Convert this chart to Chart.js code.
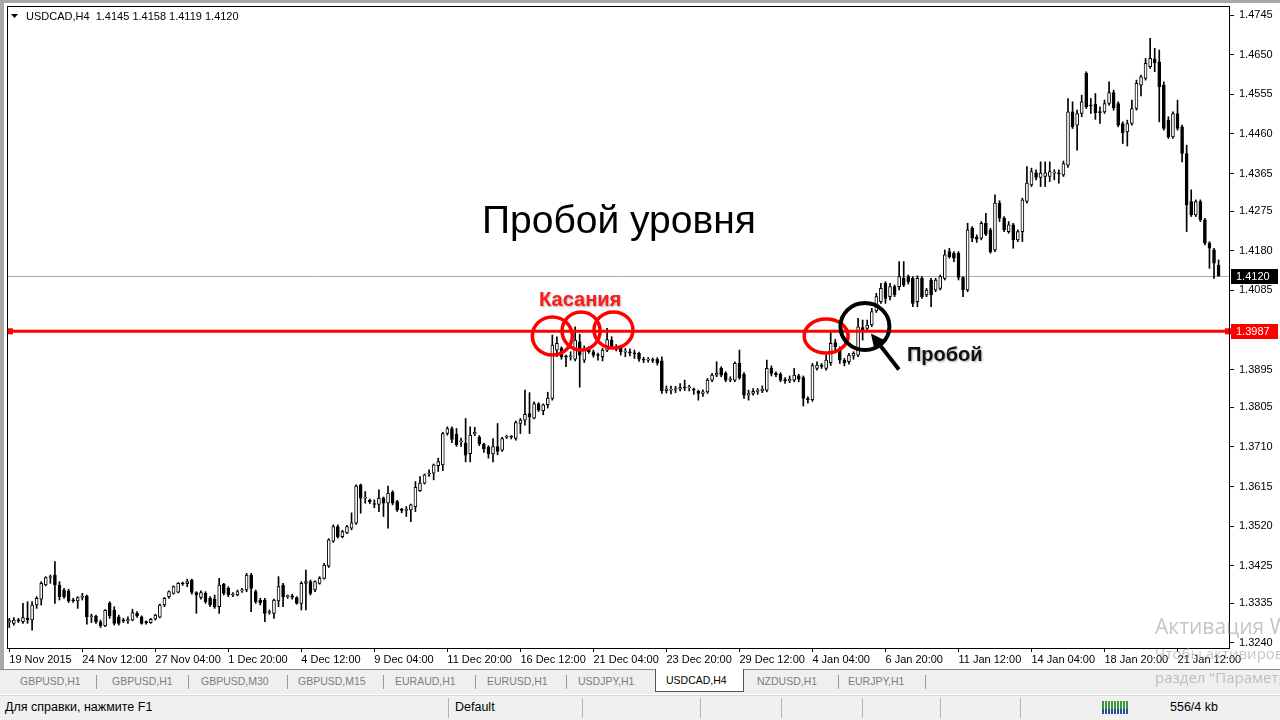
<!DOCTYPE html>
<html lang="ru">
<head>
<meta charset="utf-8">
<title>USDCAD,H4 — Пробой уровня</title>
<script src="https://cdn.jsdelivr.net/npm/chart.js@4.4.1/dist/chart.umd.min.js"></script>
<style>
  html, body { margin: 0; padding: 0; }
  body {
    width: 1280px; height: 720px; overflow: hidden; position: relative;
    background: #fff; font-family: "Liberation Sans", Arial, sans-serif;
  }
  #chart { position: absolute; left: 0; top: 0; }
  #frame-left { position: absolute; left: 0; top: 0; width: 4px; height: 669px; background: #a8a8a8; }
  #frame-top  { position: absolute; left: 0; top: 0; width: 1280px; height: 3px; background: #a8a8a8; }

  #tabbar {
    position: absolute; left: 0; top: 669px; width: 1280px; height: 25px;
    background: #efefef; border-top: 1px solid #8a8a8a; box-sizing: border-box;
  }
  #tabbar .tab { position: absolute; top: 5px; font-size: 10.5px; color: #7c7c7c; white-space: nowrap; }
  #tabbar .sep { position: absolute; top: 5px; width: 1px; height: 14px; background: #9a9a9a; }
  #tabbar .active {
    position: absolute; left: 655px; top: -1px; width: 89px; height: 23px; box-sizing: border-box;
    background: #fff; border: 1px solid #555; border-top: none;
    font-size: 10.5px; color: #000; padding: 5px 0 0 10px;
  }

  #statusbar {
    position: absolute; left: 0; top: 695px; width: 1280px; height: 25px;
    background: #f0f0f0; border-top: 1px solid #d8d8d8; box-sizing: border-box;
  }
  #statusbar .txt { position: absolute; top: 4px; font-size: 12.5px; color: #000; white-space: nowrap; }
  #statusbar .vsep { position: absolute; top: 2px; width: 1px; height: 20px; background: #b4b4b4; }
  #meter {
    position: absolute; left: 1102px; top: 5px; width: 26px; height: 13px;
    background: repeating-linear-gradient(90deg, #3a9a3a 0 2px, #f0f0f0 2px 3px);
  }
  #meter::after {
    content: ""; position: absolute; left: 0; bottom: 0; width: 26px; height: 5px;
    background: repeating-linear-gradient(90deg, #2a4fa0 0 2px, #f0f0f0 2px 3px);
  }

  .wm { position: absolute; color: rgba(150, 150, 150, 0.55); white-space: nowrap; font-family: "Open Sans", "Liberation Sans", sans-serif; }
</style>
</head>
<body>
<canvas id="chart" width="1280" height="668"></canvas>
<div id="frame-left"></div>
<div id="frame-top"></div>

<div id="tabbar">
  <span class="tab" style="left:20px">GBPUSD,H1</span>
  <span class="sep" style="left:96px"></span>
  <span class="tab" style="left:112px">GBPUSD,H1</span>
  <span class="sep" style="left:188px"></span>
  <span class="tab" style="left:201px">GBPUSD,M30</span>
  <span class="sep" style="left:287px"></span>
  <span class="tab" style="left:298px">GBPUSD,M15</span>
  <span class="sep" style="left:383px"></span>
  <span class="tab" style="left:395px">EURAUD,H1</span>
  <span class="sep" style="left:475px"></span>
  <span class="tab" style="left:487px">EURUSD,H1</span>
  <span class="sep" style="left:566px"></span>
  <span class="tab" style="left:578px">USDJPY,H1</span>
  <div class="active">USDCAD,H4</div>
  <span class="tab" style="left:757px">NZDUSD,H1</span>
  <span class="sep" style="left:838px"></span>
  <span class="tab" style="left:848px">EURJPY,H1</span>
  <span class="sep" style="left:925px"></span>
</div>

<div id="statusbar">
  <span class="txt" style="left:5px">Для справки, нажмите F1</span>
  <span class="vsep" style="left:448px"></span>
  <span class="txt" style="left:455px">Default</span>
  <span class="vsep" style="left:582px"></span>
  <span class="vsep" style="left:700px"></span>
  <span class="vsep" style="left:781px"></span>
  <span class="vsep" style="left:862px"></span>
  <span class="vsep" style="left:940px"></span>
  <span class="vsep" style="left:1020px"></span>
  <div id="meter"></div>
  <span class="txt" style="left:1170px">556/4 kb</span>
</div>

<div class="wm" style="left:1155px; top:612px; font-size:21px">Активация Windows</div>
<div class="wm" style="left:1155px; top:643px; font-size:15px">Чтобы активировать Windows, перейдите в</div>
<div class="wm" style="left:1155px; top:667px; font-size:15px">раздел "Параметры".</div>

<script>
// =====================================================================
// USDCAD,H4 — level breakout (MetaTrader style candles on Chart.js)
// =====================================================================

// ── Data: H4 candles, 19 Nov 2015 20:00 → 22 Jan 2016 ────────────────
const opens = [
  1.3290,1.3287,1.3295,1.3291,1.3300,1.3295,1.3331,1.3345,1.3379,1.3397,
  1.3403,1.3379,1.3367,1.3365,1.3343,1.3341,1.3349,1.3353,1.3303,1.3304,
  1.3291,1.3281,1.3335,1.3319,1.3303,1.3295,1.3293,1.3295,1.3311,1.3303,
  1.3290,1.3289,1.3297,1.3302,1.3331,1.3351,1.3359,1.3362,1.3383,1.3382,
  1.3391,1.3361,1.3349,1.3359,1.3347,1.3345,1.3327,1.3381,1.3371,1.3355,
  1.3355,1.3365,1.3367,1.3403,1.3363,1.3343,1.3343,1.3313,1.3311,1.3341,
  1.3379,1.3351,1.3353,1.3349,1.3335,1.3383,1.3387,1.3367,1.3383,1.3395,
  1.3425,1.3484,1.3519,1.3495,1.3504,1.3515,1.3527,1.3619,1.3587,1.3582,
  1.3574,1.3572,1.3587,1.3575,1.3601,1.3579,1.3560,1.3558,1.3559,1.3567,
  1.3605,1.3623,1.3645,1.3647,1.3665,1.3667,1.3742,1.3754,1.3740,1.3722,
  1.3719,1.3694,1.3741,1.3733,1.3717,1.3709,1.3693,1.3711,1.3702,1.3733,
  1.3734,1.3730,1.3766,1.3774,1.3790,1.3779,1.3813,1.3797,1.3811,1.3826,
  1.3942,1.3946,1.3928,1.3926,1.3920,1.3962,1.3918,1.3946,1.3938,1.3930,
  1.3926,1.3942,1.3966,1.3950,1.3946,1.3937,1.3938,1.3935,1.3934,1.3920,
  1.3918,1.3919,1.3920,1.3916,1.3845,1.3846,1.3847,1.3849,1.3852,1.3851,
  1.3848,1.3843,1.3838,1.3842,1.3870,1.3882,1.3898,1.3886,1.3870,1.3870,
  1.3910,1.3884,1.3834,1.3838,1.3843,1.3845,1.3846,1.3898,1.3886,1.3884,
  1.3871,1.3868,1.3870,1.3880,1.3876,1.3826,1.3823,1.3898,1.3905,1.3898,
  1.3912,1.3960,1.3946,1.3918,1.3914,1.3928,1.3930,1.3996,1.3994,1.4002,
  1.4036,1.4058,1.4102,1.4070,1.4094,1.4094,1.4114,1.4118,1.4114,1.4058,
  1.4114,1.4074,1.4110,1.4086,1.4090,1.4114,1.4178,1.4174,1.4174,1.4116,
  1.4086,1.4234,1.4212,1.4210,1.4246,1.4230,1.4182,1.4294,1.4258,1.4226,
  1.4242,1.4206,1.4226,1.4298,1.4338,1.4367,1.4356,1.4358,1.4358,1.4366,
  1.4367,1.4362,1.4385,1.4513,1.4481,1.4509,1.4605,1.4529,1.4531,1.4513,
  1.4513,1.4533,1.4559,1.4533,1.4485,1.4465,1.4485,1.4521,1.4577,1.4593,
  1.4621,1.4640,1.4633,1.4577,1.4493,1.4453,1.4509,1.4477,1.4413,1.4298,
  1.4266,1.4298,1.4254,1.4198,1.4182,1.4145
];
const highs = [
  1.3299,1.3301,1.3299,1.3335,1.3339,1.3339,1.3351,1.3387,1.3399,1.3403,
  1.3435,1.3387,1.3371,1.3369,1.3347,1.3351,1.3359,1.3355,1.3309,1.3307,
  1.3295,1.3320,1.3339,1.3327,1.3307,1.3299,1.3303,1.3321,1.3315,1.3305,
  1.3293,1.3299,1.3309,1.3333,1.3349,1.3365,1.3377,1.3385,1.3386,1.3393,
  1.3393,1.3363,1.3365,1.3363,1.3351,1.3355,1.3395,1.3383,1.3375,1.3361,
  1.3367,1.3371,1.3407,1.3407,1.3367,1.3347,1.3347,1.3319,1.3345,1.3399,
  1.3383,1.3355,1.3357,1.3351,1.3387,1.3415,1.3391,1.3389,1.3399,1.3431,
  1.3490,1.3523,1.3523,1.3510,1.3522,1.3552,1.3619,1.3621,1.3603,1.3585,
  1.3583,1.3607,1.3590,1.3616,1.3605,1.3582,1.3563,1.3567,1.3573,1.3627,
  1.3639,1.3645,1.3655,1.3669,1.3683,1.3745,1.3758,1.3758,1.3754,1.3731,
  1.3778,1.3758,1.3757,1.3737,1.3719,1.3713,1.3730,1.3766,1.3733,1.3738,
  1.3737,1.3772,1.3778,1.3846,1.3840,1.3818,1.3816,1.3813,1.3841,1.3978,
  1.3974,1.3950,1.3930,1.3938,1.3998,1.3980,1.3952,1.3950,1.3942,1.3935,
  1.3946,1.3994,1.3974,1.3955,1.3950,1.3946,1.3945,1.3942,1.3937,1.3925,
  1.3924,1.3923,1.3924,1.3926,1.3856,1.3856,1.3855,1.3862,1.3870,1.3858,
  1.3851,1.3846,1.3847,1.3874,1.3886,1.3914,1.3902,1.3890,1.3878,1.3914,
  1.3942,1.3888,1.3846,1.3850,1.3850,1.3856,1.3918,1.3904,1.3890,1.3888,
  1.3876,1.3880,1.3898,1.3884,1.3880,1.3830,1.3910,1.3914,1.3910,1.3930,
  1.3985,1.3968,1.3950,1.3922,1.3934,1.3938,1.4018,1.4014,1.4014,1.4042,
  1.4078,1.4102,1.4106,1.4102,1.4098,1.4154,1.4154,1.4122,1.4118,1.4120,
  1.4118,1.4090,1.4114,1.4114,1.4122,1.4182,1.4186,1.4178,1.4178,1.4118,
  1.4246,1.4238,1.4218,1.4250,1.4270,1.4234,1.4314,1.4300,1.4262,1.4250,
  1.4246,1.4230,1.4306,1.4382,1.4378,1.4374,1.4393,1.4393,1.4393,1.4374,
  1.4374,1.4395,1.4545,1.4537,1.4517,1.4553,1.4609,1.4545,1.4557,1.4525,
  1.4541,1.4585,1.4565,1.4537,1.4489,1.4493,1.4541,1.4589,1.4601,1.4641,
  1.4689,1.4665,1.4661,1.4585,1.4501,1.4513,1.4541,1.4481,1.4433,1.4326,
  1.4302,1.4302,1.4258,1.4202,1.4186,1.4158
];
const lows = [
  1.3277,1.3283,1.3289,1.3287,1.3287,1.3271,1.3323,1.3331,1.3377,1.3383,
  1.3335,1.3343,1.3347,1.3337,1.3337,1.3323,1.3343,1.3285,1.3289,1.3287,
  1.3277,1.3279,1.3299,1.3283,1.3283,1.3289,1.3287,1.3293,1.3301,1.3285,
  1.3285,1.3287,1.3295,1.3300,1.3327,1.3347,1.3357,1.3360,1.3378,1.3375,
  1.3357,1.3311,1.3345,1.3335,1.3327,1.3323,1.3311,1.3355,1.3351,1.3351,
  1.3353,1.3361,1.3363,1.3315,1.3335,1.3331,1.3291,1.3309,1.3299,1.3327,
  1.3327,1.3347,1.3345,1.3333,1.3319,1.3319,1.3355,1.3363,1.3381,1.3393,
  1.3421,1.3481,1.3491,1.3492,1.3502,1.3511,1.3524,1.3551,1.3575,1.3574,
  1.3564,1.3555,1.3543,1.3515,1.3571,1.3555,1.3552,1.3543,1.3531,1.3555,
  1.3603,1.3621,1.3639,1.3631,1.3651,1.3653,1.3738,1.3720,1.3711,1.3711,
  1.3674,1.3674,1.3737,1.3713,1.3697,1.3683,1.3674,1.3691,1.3699,1.3730,
  1.3729,1.3726,1.3742,1.3762,1.3742,1.3777,1.3795,1.3787,1.3803,1.3822,
  1.3926,1.3920,1.3902,1.3918,1.3916,1.3853,1.3912,1.3934,1.3925,1.3918,
  1.3916,1.3938,1.3946,1.3940,1.3930,1.3926,1.3928,1.3922,1.3915,1.3912,
  1.3913,1.3912,1.3906,1.3838,1.3839,1.3837,1.3840,1.3844,1.3845,1.3844,
  1.3836,1.3822,1.3831,1.3838,1.3866,1.3878,1.3878,1.3866,1.3866,1.3866,
  1.3872,1.3826,1.3822,1.3834,1.3836,1.3840,1.3842,1.3880,1.3878,1.3866,
  1.3862,1.3864,1.3866,1.3866,1.3808,1.3815,1.3819,1.3894,1.3898,1.3894,
  1.3905,1.3940,1.3910,1.3904,1.3908,1.3920,1.3926,1.3966,1.3986,1.3998,
  1.4032,1.4054,1.4054,1.4062,1.4070,1.4086,1.4094,1.4100,1.4046,1.4046,
  1.4066,1.4070,1.4046,1.4082,1.4086,1.4110,1.4162,1.4154,1.4110,1.4070,
  1.4082,1.4202,1.4200,1.4206,1.4216,1.4174,1.4178,1.4250,1.4226,1.4222,
  1.4186,1.4202,1.4202,1.4294,1.4334,1.4350,1.4334,1.4334,1.4346,1.4350,
  1.4342,1.4358,1.4380,1.4473,1.4421,1.4501,1.4521,1.4509,1.4495,1.4485,
  1.4509,1.4529,1.4517,1.4477,1.4437,1.4431,1.4481,1.4517,1.4551,1.4589,
  1.4617,1.4609,1.4489,1.4469,1.4449,1.4449,1.4469,1.4393,1.4226,1.4262,
  1.4262,1.4250,1.4194,1.4138,1.4114,1.4119
];
const closes = [
  1.3294,1.3295,1.3293,1.3301,1.3296,1.3331,1.3347,1.3383,1.3397,1.3398,
  1.3379,1.3351,1.3351,1.3341,1.3341,1.3349,1.3352,1.3303,1.3304,1.3291,
  1.3281,1.3318,1.3305,1.3287,1.3287,1.3293,1.3296,1.3313,1.3305,1.3287,
  1.3289,1.3297,1.3307,1.3331,1.3347,1.3363,1.3375,1.3383,1.3382,1.3387,
  1.3361,1.3355,1.3361,1.3339,1.3331,1.3327,1.3379,1.3359,1.3355,1.3357,
  1.3363,1.3367,1.3403,1.3371,1.3339,1.3336,1.3311,1.3315,1.3343,1.3375,
  1.3351,1.3352,1.3350,1.3335,1.3383,1.3387,1.3359,1.3387,1.3395,1.3427,
  1.3487,1.3519,1.3495,1.3507,1.3519,1.3528,1.3616,1.3587,1.3588,1.3578,
  1.3572,1.3587,1.3575,1.3599,1.3575,1.3559,1.3558,1.3560,1.3571,1.3613,
  1.3623,1.3643,1.3647,1.3667,1.3675,1.3742,1.3754,1.3728,1.3715,1.3724,
  1.3690,1.3738,1.3745,1.3717,1.3705,1.3693,1.3711,1.3699,1.3730,1.3735,
  1.3733,1.3768,1.3774,1.3788,1.3782,1.3814,1.3798,1.3811,1.3827,1.3954,
  1.3958,1.3926,1.3925,1.3928,1.3966,1.3930,1.3946,1.3938,1.3930,1.3929,
  1.3942,1.3967,1.3951,1.3944,1.3938,1.3939,1.3935,1.3933,1.3920,1.3918,
  1.3919,1.3917,1.3911,1.3845,1.3848,1.3847,1.3849,1.3852,1.3851,1.3854,
  1.3846,1.3838,1.3842,1.3870,1.3882,1.3887,1.3882,1.3870,1.3873,1.3910,
  1.3876,1.3834,1.3838,1.3843,1.3845,1.3848,1.3898,1.3886,1.3883,1.3870,
  1.3868,1.3872,1.3882,1.3872,1.3826,1.3823,1.3905,1.3906,1.3903,1.3918,
  1.3958,1.3950,1.3918,1.3912,1.3930,1.3934,1.3998,1.3986,1.4002,1.4034,
  1.4070,1.4090,1.4066,1.4094,1.4074,1.4118,1.4098,1.4106,1.4054,1.4114,
  1.4070,1.4086,1.4074,1.4110,1.4118,1.4170,1.4166,1.4162,1.4116,1.4086,
  1.4230,1.4210,1.4208,1.4246,1.4220,1.4178,1.4294,1.4258,1.4230,1.4242,
  1.4206,1.4226,1.4302,1.4342,1.4370,1.4356,1.4366,1.4367,1.4370,1.4367,
  1.4364,1.4389,1.4513,1.4477,1.4509,1.4537,1.4525,1.4527,1.4511,1.4511,
  1.4533,1.4559,1.4523,1.4481,1.4463,1.4485,1.4521,1.4581,1.4597,1.4629,
  1.4641,1.4630,1.4573,1.4473,1.4453,1.4509,1.4473,1.4413,1.4290,1.4266,
  1.4298,1.4254,1.4198,1.4186,1.4150,1.4120
];

// ── Axes ──────────────────────────────────────────────────────────────
const dateLabels = [
  '19 Nov 2015', '24 Nov 12:00', '27 Nov 04:00', '1 Dec 20:00', '4 Dec 12:00',
  '9 Dec 04:00', '11 Dec 20:00', '16 Dec 12:00', '21 Dec 04:00', '23 Dec 20:00',
  '29 Dec 12:00', '4 Jan 04:00', '6 Jan 20:00', '11 Jan 12:00', '14 Jan 04:00',
  '18 Jan 20:00', '21 Jan 12:00'
];
const dateTickBars = [0, 16, 32, 48, 64, 80, 96, 112, 128, 144, 160, 176, 192, 208, 224, 240, 256];
const priceTicks = [
  1.4745, 1.4650, 1.4555, 1.4460, 1.4365, 1.4275, 1.4180, 1.4085,
  1.3990, 1.3895, 1.3805, 1.3710, 1.3615, 1.3520, 1.3425, 1.3335, 1.3240
];
const PRICE_MIN = 1.3228;
const PRICE_MAX = 1.47642;
const EMPTY_BARS_RIGHT = 2;   // chart shift gap after the last candle

// ── Annotations (bar index, price) ────────────────────────────────────
const LEVEL_PRICE = 1.3987;
const touchMarks  = [[119.0, 1.39757], [125.3, 1.39877], [132.4, 1.39901], [179.0, 1.39757]];
const breakMark   = [187.5, 1.39985];

const symbol = 'USDCAD,H4';
const last   = closes.length - 1;

// ── Datasets ──────────────────────────────────────────────────────────
const bodyData   = opens.map((o, i) => ({ x: i, y: [o, closes[i]] }));
const wickData   = lows.map((l, i) => ({ x: i, y: [l, highs[i]] }));
const bodyColors = opens.map((o, i) => closes[i] >= o ? '#ffffff' : '#000000');

const FONT = '"Liberation Sans", Arial, sans-serif';
Chart.defaults.font.family = FONT;
Chart.defaults.font.size = 11;
Chart.defaults.color = '#000';

// ── Overlay: level line, circles, captions, price tags, frame ────────
function ellipse(ctx, cx, cy, rx, ry, color, width) {
  ctx.beginPath();
  ctx.ellipse(cx, cy, rx, ry, 0, 0, Math.PI * 2);
  ctx.strokeStyle = color;
  ctx.lineWidth = width;
  ctx.stroke();
}

function priceTag(ctx, yPix, text, bg) {
  ctx.fillStyle = bg;
  ctx.fillRect(1231, Math.round(yPix) - 7, 47, 15);
  ctx.fillStyle = '#fff';
  ctx.font = '11px ' + FONT;
  ctx.textAlign = 'left';
  ctx.textBaseline = 'middle';
  ctx.fillText(text, 1236, Math.round(yPix) + 1);
}

function shadowText(ctx, text, x, y, font, color) {
  ctx.save();
  ctx.font = font;
  ctx.textAlign = 'left';
  ctx.textBaseline = 'alphabetic';
  ctx.shadowColor = 'rgba(0,0,0,0.35)';
  ctx.shadowOffsetX = 1;
  ctx.shadowOffsetY = 1;
  ctx.shadowBlur = 2;
  ctx.fillStyle = color;
  ctx.fillText(text, x, y);
  ctx.restore();
}

// scales report label overflow as padding; MT4 keeps the frame fixed
function noScalePadding(s) {
  s.paddingTop = 0;
  s.paddingBottom = 0;
  s.paddingLeft = 0;
  s.paddingRight = 0;
}

const mtOverlay = {
  id: 'mtOverlay',
  beforeDatasetsDraw(chart) {
    const { ctx, chartArea: a, scales: { y } } = chart;
    const yb = Math.round(y.getPixelForValue(closes[last])) + 0.5;
    ctx.save();
    ctx.strokeStyle = '#a3acb6';
    ctx.lineWidth = 1;
    ctx.beginPath();
    ctx.moveTo(a.left, yb);
    ctx.lineTo(a.right, yb);
    ctx.stroke();
    ctx.restore();
  },
  afterDatasetsDraw(chart) {
    const { ctx, chartArea: a, scales: { x, y } } = chart;
    ctx.save();

    // support level
    const yl = y.getPixelForValue(LEVEL_PRICE);
    ctx.strokeStyle = '#ff0000';
    ctx.lineWidth = 3;
    ctx.beginPath();
    ctx.moveTo(a.left, yl);
    ctx.lineTo(a.right, yl);
    ctx.stroke();
    ctx.fillStyle = '#ff0000';
    ctx.fillRect(a.left, yl - 3, 6, 6);
    ctx.fillRect(a.right - 5, yl - 3, 6, 6);

    // touches
    const radii = [[20, 19], [19, 19], [19.5, 18], [22, 17]];
    touchMarks.forEach(([bar, price], i) => {
      ellipse(ctx, x.getPixelForValue(bar), y.getPixelForValue(price), radii[i][0], radii[i][1], '#ff0000', 3.5);
    });

    // breakout
    const bx = x.getPixelForValue(breakMark[0]);
    const by = y.getPixelForValue(breakMark[1]);
    ellipse(ctx, bx, by, 24.5, 23.5, '#000', 4);

    // arrow towards the breakout candle
    const tipX = bx + 6, tipY = by + 7;
    const tailX = bx + 34, tailY = by + 43;
    const ang = Math.atan2(tipY - tailY, tipX - tailX);
    ctx.strokeStyle = '#000';
    ctx.lineWidth = 4;
    ctx.beginPath();
    ctx.moveTo(tailX, tailY);
    ctx.lineTo(tipX - Math.cos(ang) * 10, tipY - Math.sin(ang) * 10);
    ctx.stroke();
    ctx.fillStyle = '#000';
    ctx.beginPath();
    ctx.moveTo(tipX, tipY);
    ctx.lineTo(tipX - Math.cos(ang - 0.45) * 16, tipY - Math.sin(ang - 0.45) * 16);
    ctx.lineTo(tipX - Math.cos(ang + 0.45) * 16, tipY - Math.sin(ang + 0.45) * 16);
    ctx.closePath();
    ctx.fill();
    ctx.restore();

    // captions
    const c2x = x.getPixelForValue(touchMarks[1][0]);
    shadowText(ctx, 'Касания', c2x - 42, yl - 25, 'bold 20px ' + FONT, '#ff1a1a');
    shadowText(ctx, 'Пробой', bx + 42, by + 35, 'bold 20px ' + FONT, '#111');

    ctx.save();
    ctx.font = '39px ' + FONT;
    ctx.fillStyle = '#000';
    ctx.textBaseline = 'alphabetic';
    ctx.fillText('Пробой уровня', 482, 233);
    ctx.restore();
  },
  afterDraw(chart) {
    const { ctx, chartArea: a, scales: { y } } = chart;
    ctx.save();
    // chart frame
    ctx.strokeStyle = '#000';
    ctx.lineWidth = 1;
    ctx.strokeRect(a.left + 0.5, a.top - 0.5, a.right - a.left - 1, a.bottom - a.top + 1);

    // price tags on the axis
    priceTag(ctx, y.getPixelForValue(closes[last]), closes[last].toFixed(4), '#000');
    priceTag(ctx, y.getPixelForValue(LEVEL_PRICE), LEVEL_PRICE.toFixed(4), '#ff0000');

    // symbol line
    ctx.fillStyle = '#000';
    ctx.beginPath();
    ctx.moveTo(11, 14);
    ctx.lineTo(18, 14);
    ctx.lineTo(14.5, 18);
    ctx.closePath();
    ctx.fill();
    ctx.font = '11px ' + FONT;
    ctx.textBaseline = 'middle';
    ctx.fillText(symbol + '  ' + [opens[last], highs[last], lows[last], closes[last]].map(v => v.toFixed(4)).join(' '), 26, 17);
    ctx.restore();
  }
};

// ── Chart ─────────────────────────────────────────────────────────────
new Chart(document.getElementById('chart'), {
  type: 'bar',
  data: {
    datasets: [
      {
        label: 'body',
        data: bodyData,
        backgroundColor: bodyColors,
        borderColor: '#000',
        borderWidth: 1,
        borderSkipped: false,
        barThickness: 3,
        minBarLength: 1,
        grouped: false,
        order: 1,
      },
      {
        label: 'wick',
        data: wickData,
        backgroundColor: '#000',
        borderWidth: 0,
        barThickness: 1,
        grouped: false,
        order: 2,
      },
    ],
  },
  options: {
    responsive: false,
    animation: false,
    devicePixelRatio: 1,
    layout: { padding: { left: 7, top: 7, right: 0, bottom: 0 } },
    plugins: { legend: { display: false }, tooltip: { enabled: false } },
    scales: {
      x: {
        type: 'linear',
        min: -0.5,
        max: closes.length - 0.5 + EMPTY_BARS_RIGHT,
        bounds: 'data',
        offset: false,
        grid: { drawOnChartArea: false, offset: false, tickLength: 4, color: '#000' },
        border: { display: false },
        afterBuildTicks: (s) => { s.ticks = dateTickBars.map(v => ({ value: v })); },
        afterFit: (s) => { s.height = 20; noScalePadding(s); },
        ticks: {
          autoSkip: false,
          maxRotation: 0,
          align: 'start',
          padding: 1,
          callback: (v, i) => dateLabels[i],
        },
      },
      y: {
        position: 'right',
        min: PRICE_MIN,
        max: PRICE_MAX,
        beginAtZero: false,
        bounds: 'data',
        grid: { drawOnChartArea: false, tickLength: 4, color: '#000' },
        border: { display: false },
        afterBuildTicks: (s) => { s.ticks = priceTicks.map(v => ({ value: v })); },
        afterFit: (s) => { s.width = 50; noScalePadding(s); },
        ticks: {
          autoSkip: false,
          padding: 5,
          callback: (v) => Number(v).toFixed(4),
        },
      },
    },
  },
  plugins: [mtOverlay],
});
</script>
</body>
</html>
